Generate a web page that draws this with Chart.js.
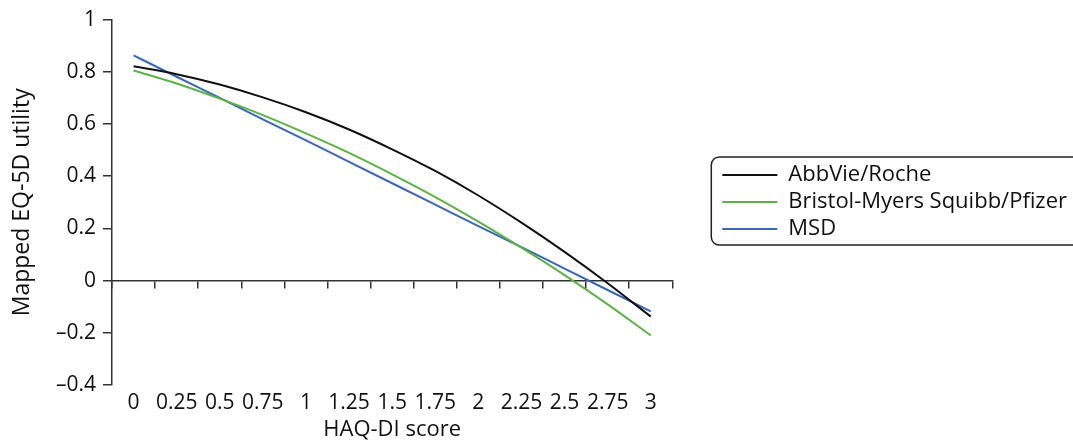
<!DOCTYPE html>
<html>
<head>
<meta charset="utf-8">
<script src="https://cdn.jsdelivr.net/npm/chart.js@4.4.1/dist/chart.umd.min.js"></script>
<style>
  html, body { margin: 0; padding: 0; background: #fff; }
  #wrap { width: 1073px; height: 444px; position: relative; }
</style>
</head>
<body>
<div id="wrap"><canvas id="chart"></canvas></div>
<script>
// HAQ-DI score categories
let haqScores = ['0', '0.25', '0.5', '0.75', '1', '1.25', '1.5', '1.75', '2', '2.25', '2.5', '2.75', '3'];

// mapped EQ-5D utility
let abbvieRoche = [0.821, 0.791, 0.751, 0.702, 0.645, 0.579, 0.503, 0.420, 0.326, 0.222, 0.110, -0.010, -0.138];
let bmsPfizer = [0.805, 0.755, 0.697, 0.634, 0.564, 0.489, 0.407, 0.320, 0.226, 0.126, 0.021, -0.091, -0.210];
let msd = [0.863, 0.781, 0.700, 0.618, 0.537, 0.455, 0.373, 0.291, 0.209, 0.128, 0.046, -0.036, -0.118];

let seriesNames = ['AbbVie/Roche', 'Bristol-Myers Squibb/Pfizer', 'MSD'];
let seriesColors = ['#111111', '#5db246', '#3a67b8'];

let yMin = -0.4;
let yMax = 1;
let yStep = 0.2;

const font = "'Open Sans', 'Noto Sans', sans-serif";
const axisColor = '#333333';

function utilityLabel(v) {
  let r = Math.round(v * 10) / 10;
  if (r === 0) return '0';
  return (r < 0 ? '\u2013' : '') + Math.abs(r).toString();
}

// rounded frame round the legend
let legendFrame = {
  id: 'legendFrame',
  afterDraw(chart) {
    let boxes = chart.legend.legendHitBoxes;
    if (!boxes || !boxes.length) return;
    let first = boxes[0];
    let last = boxes[boxes.length - 1];
    let left = first.left - 11;
    let top = first.top - 7;
    let bottom = last.top + last.height + 5;
    let right = chart.width + 10;
    let ctx = chart.ctx;
    ctx.save();
    ctx.strokeStyle = '#222';
    ctx.lineWidth = 1.5;
    ctx.beginPath();
    ctx.roundRect(left, top, right - left, bottom - top, 8);
    ctx.stroke();
    ctx.restore();
  }
};

let datasets = [abbvieRoche, bmsPfizer, msd].map(function(values, i) {
  return {
    label: seriesNames[i],
    data: values,
    borderColor: seriesColors[i],
    backgroundColor: seriesColors[i],
    borderWidth: 2,
    pointRadius: 0,
    cubicInterpolationMode: 'monotone',
    fill: false
  };
});

new Chart(document.getElementById('chart'), {
  type: 'line',
  data: { labels: haqScores, datasets: datasets },
  plugins: [legendFrame],
  options: {
    responsive: true,
    maintainAspectRatio: false,
    animation: false,
    layout: { padding: { top: 18, right: -4, bottom: 0, left: 0 } },
    plugins: {
      tooltip: { enabled: false },
      legend: {
        position: 'right',
        align: 'start',
        maxWidth: 420,
        // empty title used only as a spacer above the entries
        title: { display: true, text: '', font: { size: 10 }, padding: { top: 0, bottom: 129 } },
        labels: {
          usePointStyle: true,
          pointStyle: 'line',
          pointStyleWidth: 55,
          boxWidth: 55,
          padding: 5,
          color: '#111',
          font: { family: font, size: 22 }
        }
      }
    },
    scales: {
      x: {
        type: 'category',
        position: 'bottom',
        offset: true,
        grid: { display: false, drawTicks: false },
        border: { display: false },
        ticks: {
          color: '#111',
          padding: 5,
          maxRotation: 0,
          autoSkip: false,
          font: { family: font, size: 21 }
        },
        title: {
          display: true,
          text: 'HAQ-DI score',
          color: '#111',
          padding: { top: 0, bottom: 1 },
          font: { family: font, size: 22 }
        },
        afterFit: function(s) { s.height = 59; }
      },
      xZero: {
        type: 'category',
        axis: 'x',
        labels: haqScores,
        position: { y: 0 },
        offset: true,
        grid: { offset: true, drawOnChartArea: false, drawTicks: true, tickLength: 7, color: axisColor, lineWidth: 1.5 },
        border: { display: true, color: axisColor, width: 1.5 },
        ticks: { display: false }
      },
      y: {
        min: yMin,
        max: yMax,
        position: 'left',
        grid: { drawOnChartArea: false, drawTicks: true, tickLength: 9, color: axisColor, lineWidth: 1.5 },
        border: { display: true, color: axisColor, width: 1.5 },
        ticks: {
          stepSize: yStep,
          color: '#111',
          padding: 7,
          font: { family: font, size: 21 },
          callback: utilityLabel
        },
        title: {
          display: true,
          text: 'Mapped EQ-5D utility',
          color: '#111',
          padding: { top: 9, bottom: 0 },
          font: { family: font, size: 23 }
        },
        afterFit: function(s) { s.width = 112; }
      },
      gap: {
        type: 'linear',
        position: 'right',
        display: true,
        grid: { display: false, drawTicks: false },
        border: { display: false },
        ticks: { display: false },
        afterFit: function(s) { s.width = 45; }
      }
    }
  }
});
</script>
</body>
</html>
